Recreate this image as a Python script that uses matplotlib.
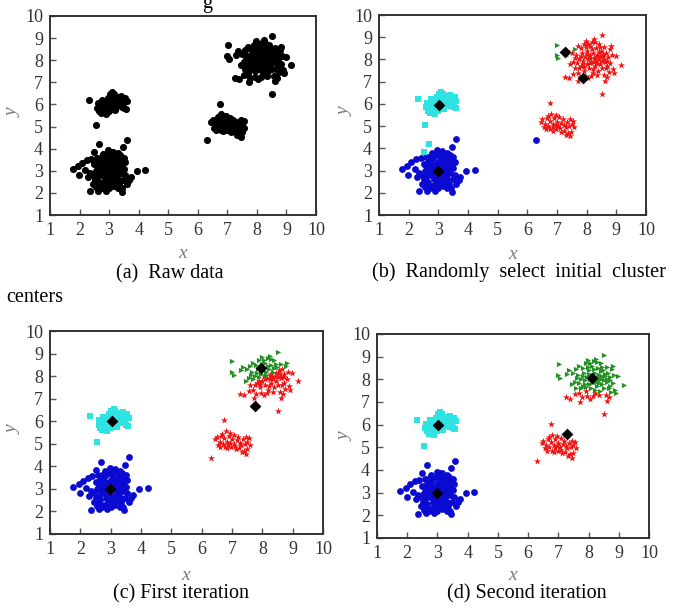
import numpy as np
import matplotlib
matplotlib.use("Agg")
import matplotlib.pyplot as plt

plt.rcParams['font.family'] = ['Liberation Serif', 'DejaVu Serif']

# cluster around (3, 3)
a_x = [1.77, 1.98, 1.96, 2.09, 2.26, 2.20, 2.35, 2.28, 3.59, 2.67, 2.50, 3.46, 2.97, 3.14, 2.80,
       3.93, 4.22, 3.74, 3.68, 3.55, 2.35, 2.62, 2.89, 3.45, 3.30, 2.55, 3.60, 2.45,
       2.60, 2.70, 2.75, 2.80, 2.85, 2.90, 2.95, 3.00, 3.05, 3.10, 3.15, 3.20, 3.25, 3.30, 3.35, 3.40,
       3.45, 3.50, 2.65, 2.70, 2.75, 2.85, 2.90, 3.00, 3.05, 3.10, 3.20, 3.25, 3.35, 3.40, 2.55, 2.60,
       2.65, 2.80, 2.95, 3.15, 3.30, 3.50, 2.50, 2.45, 3.00, 2.88, 3.12, 2.72, 3.38, 3.22, 2.58, 2.78,
       3.02, 3.28, 2.92, 3.18, 2.68, 3.48, 2.82, 3.08, 2.62, 3.42, 2.98, 3.55,
       2.40, 2.52, 2.74, 2.86, 3.06, 3.16, 3.26, 3.36, 2.94, 2.64]
a_y = [3.07, 2.80, 3.22, 3.37, 3.50, 3.05, 2.90, 2.70, 4.41, 4.20, 3.85, 4.08, 3.93, 3.86, 3.78,
       3.00, 3.04, 2.73, 2.58, 2.80, 2.08, 2.10, 2.10, 2.05, 2.20, 2.25, 2.40, 2.40,
       3.20, 3.00, 2.80, 3.30, 2.60, 3.10, 2.90, 3.40, 2.70, 3.00, 3.20, 2.80, 3.50, 2.60, 3.10, 2.90,
       3.30, 3.60, 2.50, 3.60, 3.40, 3.00, 2.40, 2.20, 3.60, 2.50, 3.70, 3.00, 2.40, 3.50, 3.00, 2.70,
       3.40, 2.30, 3.70, 2.30, 3.80, 3.10, 3.30, 2.80, 3.00, 2.75, 3.40, 2.20, 3.70, 2.50, 3.60, 2.95,
       2.55, 3.25, 3.25, 2.95, 2.90, 2.60, 3.55, 3.85, 3.10, 2.20, 2.35, 3.40,
       3.55, 2.60, 3.15, 2.85, 3.15, 2.65, 2.75, 3.30, 2.62, 2.35]

# cluster around (3, 6)
b_x = [2.33, 2.55, 2.60, 2.65, 2.70, 2.72, 2.78, 2.80, 2.85, 2.88, 2.92, 2.95, 2.98, 3.00, 3.02,
       3.05, 3.08, 3.10, 3.12, 3.15, 3.18, 3.22, 3.25, 3.28, 3.30, 3.35, 3.38, 3.42, 3.45, 3.48,
       3.52, 3.55, 3.58, 3.60, 2.62, 2.75, 2.90, 3.00, 3.20, 3.40, 2.68, 3.15]
b_y = [6.22, 5.07, 5.85, 5.70, 6.00, 5.60, 5.90, 5.75, 6.10, 5.55, 5.85, 6.30, 6.05, 5.70, 6.45,
       6.20, 5.90, 6.55, 6.10, 5.80, 6.30, 6.00, 6.20, 5.95, 6.35, 6.10, 6.30, 5.90, 6.20, 6.05,
       5.85, 6.30, 5.80, 6.15, 6.05, 6.20, 6.15, 5.95, 5.75, 6.40, 5.80, 6.45]

# cluster around (7, 5)
c_x = [6.30, 6.75, 6.45, 6.50, 6.55, 6.60, 6.62, 6.68, 6.70, 6.75, 6.78, 6.80, 6.85, 6.88, 6.90,
       6.95, 6.98, 7.00, 7.05, 7.08, 7.10, 7.15, 7.20, 7.22, 7.25, 7.30, 7.35, 7.38, 7.42, 7.45,
       7.48, 7.50, 7.55, 7.58, 7.45, 6.95, 6.65, 7.12, 7.32, 6.85]
c_y = [4.38, 6.04, 5.20, 5.30, 4.95, 5.10, 4.85, 5.45, 5.00, 5.25, 4.85, 5.55, 5.10, 4.95, 5.35,
       5.05, 4.85, 5.20, 5.00, 5.40, 4.90, 5.15, 5.30, 4.80, 5.05, 4.95, 5.20, 4.70, 5.00, 4.55,
       4.75, 5.10, 5.25, 4.95, 5.30, 5.50, 5.35, 4.75, 4.62, 4.80]

# cluster around (8, 8)
d_x = [7.01, 7.00, 7.05, 8.50, 9.17, 8.50, 8.62, 7.72, 7.26, 7.40, 8.98, 7.60, 7.35, 7.30,
       7.55, 7.60, 7.65, 7.70, 7.75, 7.80, 7.82, 7.85, 7.88, 7.90, 7.92, 7.95, 8.00, 8.02, 8.05,
       8.08, 8.10, 8.12, 8.15, 8.18, 8.20, 8.22, 8.25, 8.28, 8.30, 8.32, 8.35, 8.38, 8.40, 8.42,
       8.45, 8.48, 8.52, 8.55, 8.58, 8.60, 8.62, 8.65, 8.70, 8.72, 8.75, 8.78, 8.80, 8.85, 8.88,
       7.70, 7.78, 7.95, 8.05, 8.35, 8.15, 7.50, 7.62, 7.98, 8.28, 8.45, 8.22, 7.88, 8.00, 8.10,
       8.40, 8.60, 8.30, 7.75, 8.50, 8.68, 8.92, 7.45, 7.55, 8.82, 8.05, 8.25,
       7.82, 7.92, 8.18, 8.36, 8.56, 8.66, 7.68, 8.12, 8.44, 7.98, 8.26, 8.70]
d_y = [8.67, 8.20, 8.05, 9.08, 7.77, 6.45, 7.05, 7.02, 7.20, 7.15, 8.15, 8.45, 8.40, 8.25,
       7.90, 7.60, 8.20, 7.40, 8.00, 8.50, 7.70, 8.30, 7.95, 8.70, 7.50, 8.10, 7.80, 8.40, 8.00,
       7.60, 8.60, 8.20, 7.90, 8.80, 7.40, 8.30, 8.05, 7.70, 8.50, 7.95, 8.20, 7.50, 8.70, 8.00,
       7.80, 8.40, 7.60, 8.15, 7.30, 8.55, 7.90, 8.30, 7.70, 8.10, 7.45, 8.45, 7.85, 8.20, 7.55,
       8.60, 7.20, 7.25, 7.15, 7.30, 7.25, 8.30, 8.05, 8.85, 8.78, 8.55, 7.55, 7.80, 8.25, 7.85,
       8.35, 8.00, 8.10, 7.60, 7.95, 7.20, 7.40, 7.80, 7.35, 8.60, 8.70, 8.90,
       8.15, 7.65, 8.45, 7.85, 8.25, 7.60, 7.85, 8.05, 8.15, 8.55, 7.88, 7.95]

# cluster centres shown as black diamonds (blue, cyan, green, red)
centers_b_x = [3.00, 3.03, 7.28, 7.88]
centers_b_y = [2.97, 5.93, 8.34, 7.18]
centers_c_x = [2.97, 3.03, 7.97, 7.76]
centers_c_y = [3.00, 6.00, 8.34, 6.68]
centers_d_x = [2.97, 3.03, 8.12, 7.28]
centers_d_y = [3.00, 5.99, 8.08, 5.60]

captions = ["(a)  Raw data", "(b)  Randomly  select  initial  cluster",
            "(c) First iteration", "(d) Second iteration"]

COLORS = {'blue': '#0a0ad2', 'cyan': '#2fe3e3', 'red': '#ef1414', 'green': '#248f24'}
MARKERS = {'blue': ('o', 24), 'cyan': ('s', 18), 'red': ('*', 28), 'green': ('>', 14)}

a_x, a_y = np.array(a_x), np.array(a_y)
b_x, b_y = np.array(b_x), np.array(b_y)
c_x, c_y = np.array(c_x), np.array(c_y)
d_x, d_y = np.array(d_x), np.array(d_y)


def closer_to_first(px, py, cx, cy, i, j):
    d1 = (px - cx[i]) ** 2 + (py - cy[i]) ** 2
    d2 = (px - cx[j]) ** 2 + (py - cy[j]) ** 2
    return d1 < d2


def style_axes(ax):
    ax.set_xlim(1, 10)
    ax.set_ylim(1, 10)
    ax.set_xticks(range(1, 11))
    ax.set_yticks(range(1, 11))
    ax.tick_params(direction='in', length=4, width=1, color='#555555',
                   labelcolor='#333333', labelsize=13, pad=5)
    for s in ax.spines.values():
        s.set_color('#333333')
        s.set_linewidth(1.4)


def draw_groups(ax, groups):
    for name, xs, ys in groups:
        m, s = MARKERS[name]
        ax.scatter(xs, ys, marker=m, s=s, color=COLORS[name], linewidths=0, zorder=2)


def draw_centers(ax, cx, cy):
    ax.scatter(cx, cy, marker='D', s=36, color='black', linewidths=0, zorder=4)


fig = plt.figure(figsize=(6.78, 6.08), dpi=100)
W, H = 678.0, 608.0


def add_ax(left, right, top, bottom):
    return fig.add_axes([left / W, 1 - bottom / H, (right - left) / W, (bottom - top) / H])


ax_a = add_ax(50, 316, 16, 215)
ax_b = add_ax(379, 646, 15, 215)
ax_c = add_ax(50, 323, 331, 534)
ax_d = add_ax(377, 649, 334, 538)

# (a) raw data
all_x = np.concatenate([a_x, b_x, c_x, d_x])
all_y = np.concatenate([a_y, b_y, c_y, d_y])
ax_a.scatter(all_x, all_y, marker='o', s=26, color='black', linewidths=0)

# (b) random initial centres
a_cyan = (a_x < 2.7) & (a_y > 3.8)
c_blue = c_x < 6.35
d_green = (d_x < 7.1) | ((d_x < 7.65) & (d_y > 8.42))
draw_groups(ax_b, [
    ('blue', np.concatenate([a_x[~a_cyan], c_x[c_blue]]), np.concatenate([a_y[~a_cyan], c_y[c_blue]])),
    ('cyan', np.concatenate([b_x, a_x[a_cyan]]), np.concatenate([b_y, a_y[a_cyan]])),
    ('red', np.concatenate([c_x[~c_blue], d_x[~d_green]]), np.concatenate([c_y[~c_blue], d_y[~d_green]])),
    ('green', d_x[d_green], d_y[d_green]),
])
draw_centers(ax_b, centers_b_x, centers_b_y)

# (c) first iteration: points assigned to the centres of (b)
g_c = closer_to_first(d_x, d_y, centers_b_x, centers_b_y, 2, 3)
draw_groups(ax_c, [
    ('blue', a_x, a_y),
    ('cyan', b_x, b_y),
    ('red', np.concatenate([c_x, d_x[~g_c]]), np.concatenate([c_y, d_y[~g_c]])),
    ('green', d_x[g_c], d_y[g_c]),
])
draw_centers(ax_c, centers_c_x, centers_c_y)

# (d) second iteration: points assigned to the centres of (c)
g_d = closer_to_first(d_x, d_y, centers_c_x, centers_c_y, 2, 3)
draw_groups(ax_d, [
    ('blue', a_x, a_y),
    ('cyan', b_x, b_y),
    ('red', np.concatenate([c_x, d_x[~g_d]]), np.concatenate([c_y, d_y[~g_d]])),
    ('green', d_x[g_d], d_y[g_d]),
])
draw_centers(ax_d, centers_d_x, centers_d_y)

for ax in (ax_a, ax_b, ax_c, ax_d):
    style_axes(ax)

# axis labels
lab = dict(fontsize=14, color='#7a7a7a', style='italic', ha='center', va='center')
for px, py in [(183, 254), (513, 255), (186, 575), (513, 576)]:
    fig.text(px / W, 1 - py / H, 'x', **lab)
for px, py in [(13, 113), (345, 112), (13, 430), (345, 437)]:
    fig.text(px / W, 1 - py / H, 'y', rotation=90, **lab)

# captions
cap = dict(fontsize=14.5, color='black', va='center')
fig.text(170 / W, 1 - 274 / H, captions[0], ha='center', **cap)
fig.text(372 / W, 1 - 272 / H, captions[1], ha='left', **cap)
fig.text(6 / W, 1 - 297 / H, "centers", ha='left', **cap)
fig.text(181 / W, 1 - 594 / H, captions[2], ha='center', **cap)
fig.text(527 / W, 1 - 594 / H, captions[3], ha='center', **cap)
# tail of the line above the figure
fig.text(207 / W, 1 - 8 / H, "g", ha='center', va='baseline', fontsize=14.5)

fig.savefig("out.png", dpi=100)
